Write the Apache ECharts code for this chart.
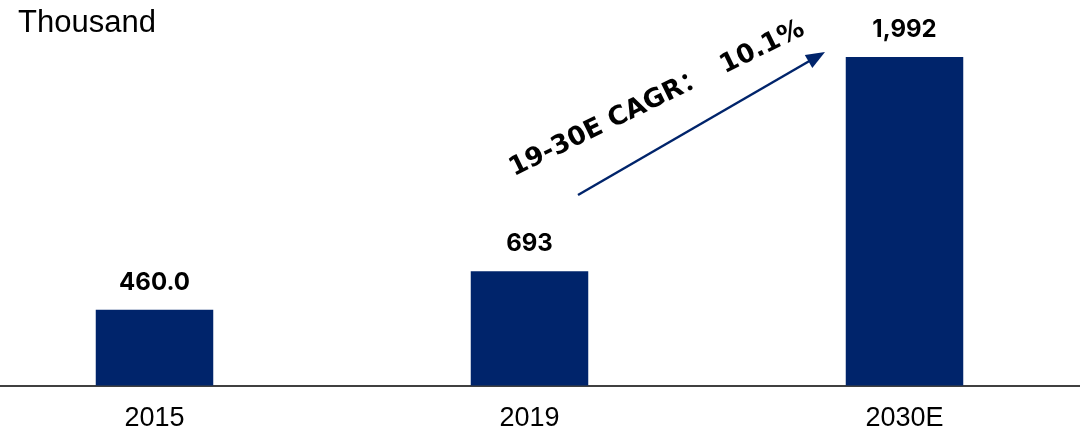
<!DOCTYPE html>
<html>
<head>
<meta charset="utf-8">
<script src="https://cdn.jsdelivr.net/npm/echarts@6/dist/echarts.min.js"></script>
<style>
  html, body { margin: 0; padding: 0; background: #ffffff; }
  #chart { width: 1080px; height: 432px; }
</style>
</head>
<body>
<div id="chart"></div>
<script>
// Installed base by year (thousand units)
const categories = ['2015', '2019', '2030E'];
const values = [460, 693, 1992];
const valueLabels = ['460.0', '693', '1,992'];
const unitLabel = 'Thousand';
const cagrText = '19-30E CAGR：  10.1%';

const NAVY = '#00246B';

const chart = echarts.init(document.getElementById('chart'), null, { renderer: 'canvas' });

// arrow geometry for the growth annotation
const arrowStart = [578, 195];
const arrowTip = [825, 52];
const dx = arrowTip[0] - arrowStart[0];
const dy = arrowTip[1] - arrowStart[1];
const len = Math.sqrt(dx * dx + dy * dy);
const ux = dx / len, uy = dy / len;
const headLen = 19, headHalf = 7.5;
const baseX = arrowTip[0] - ux * headLen, baseY = arrowTip[1] - uy * headLen;
const headPoints = [
  arrowTip,
  [baseX - uy * headHalf, baseY + ux * headHalf],
  [baseX + uy * headHalf, baseY - ux * headHalf]
];

chart.setOption({
  animation: false,
  grid: {
    left: -33,
    width: 1125,
    top: 55.7,
    bottom: 46.5,
    containLabel: false,
    outerBoundsMode: 'none'
  },
  xAxis: {
    type: 'category',
    data: categories,
    axisLine: { show: true, lineStyle: { color: '#000000', width: 1.5 } },
    axisTick: { show: false },
    axisLabel: {
      color: '#000000',
      fontFamily: 'Liberation Sans, Arial, sans-serif',
      fontSize: 27,
      margin: 20
    }
  },
  yAxis: {
    type: 'value',
    min: 0,
    max: 2000,
    show: false,
    splitLine: { show: false }
  },
  series: [{
    type: 'bar',
    data: values,
    barWidth: 117.5,
    itemStyle: { color: NAVY },
    label: {
      show: true,
      position: 'top',
      distance: 15,
      color: '#000000',
      fontFamily: 'Inter, sans-serif',
      fontWeight: 'bold',
      fontSize: 24,
      formatter: (p) => valueLabels[p.dataIndex]
    }
  }],
  graphic: [
    {
      type: 'text',
      left: 18,
      top: 8,
      style: {
        text: unitLabel,
        fill: '#000000',
        font: '31px "Liberation Sans", Arial, sans-serif'
      }
    },
    {
      type: 'line',
      shape: { x1: arrowStart[0], y1: arrowStart[1], x2: baseX + ux * 2, y2: baseY + uy * 2 },
      style: { stroke: NAVY, lineWidth: 2.5 }
    },
    {
      type: 'polygon',
      shape: { points: headPoints },
      style: { fill: NAVY }
    },
    {
      type: 'text',
      x: 657,
      y: 99,
      rotation: 26 * Math.PI / 180,
      style: {
        text: cagrText,
        fill: '#000000',
        font: 'bold 26px "DejaVu Sans", "Noto Sans CJK SC", sans-serif',
        align: 'center',
        verticalAlign: 'middle'
      }
    }
  ]
});
</script>
</body>
</html>
